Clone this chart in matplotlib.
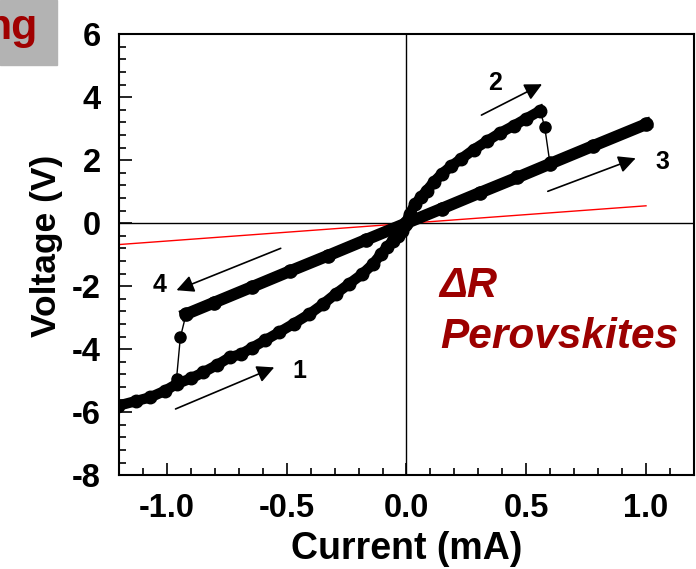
import numpy as np
import matplotlib.pyplot as plt
from matplotlib.patches import Rectangle

# I-V loop of a perovskite resistive switch
# high resistance branch, sweep from -1.2 mA up to the switching point
high_i = [-1.205, -1.13, -1.07, -1.01, -0.96, -0.90, -0.849, -0.79, -0.738, -0.691,
          -0.643, -0.59, -0.533, -0.47, -0.406, -0.35, -0.296, -0.24, -0.185, -0.14,
          -0.106, -0.08, -0.058, -0.035, -0.019, -0.005, 0.013, 0.036, 0.06, 0.084,
          0.115, 0.147, 0.185, 0.226, 0.28, 0.337, 0.39, 0.447, 0.50, 0.558]
high_v = [-5.80, -5.65, -5.53, -5.33, -5.11, -4.93, -4.74, -4.50, -4.26, -4.16,
          -3.95, -3.72, -3.47, -3.19, -2.89, -2.58, -2.25, -1.93, -1.62, -1.30,
          -0.98, -0.76, -0.56, -0.40, -0.24, -0.05, 0.29, 0.60, 0.82, 1.03,
          1.31, 1.56, 1.80, 2.03, 2.33, 2.61, 2.86, 3.09, 3.32, 3.57]

# low resistance branch (sweep up to 1.0 mA and back down to -0.92 mA)
low_i = [-0.920, -0.802, -0.643, -0.485, -0.327, -0.169, 0.0, 0.147,
         0.305, 0.463, 0.598, 0.779, 1.0]
low_v = [-2.89, -2.52, -2.02, -1.52, -1.03, -0.53, 0.0, 0.46,
         0.96, 1.45, 1.88, 2.45, 3.14]

# switching jumps
set_i = [0.558, 0.577, 0.598]
set_v = [3.57, 3.06, 1.95]
reset_i = [-0.920, -0.944, -0.960]
reset_v = [-2.89, -3.63, -4.95]

# red reference line
ref_i = [-1.2, 1.0]
ref_v = [-0.68, 0.55]

# sweep direction arrows: (start, end, label position, label)
arrows = [
    ((-0.964, -5.90), (-0.552, -4.58), (-0.445, -4.70), '1'),
    ((0.313, 3.43), (0.566, 4.41), (0.37, 4.45), '2'),
    ((0.590, 1.01), (0.957, 2.06), (1.07, 1.95), '3'),
    ((-0.525, -0.80), (-0.960, -2.13), (-1.03, -1.95), '4'),
]

plt.rcParams['font.family'] = 'Liberation Sans'
plt.rcParams['font.weight'] = 'bold'

fig = plt.figure(figsize=(6.96, 5.69), dpi=100)
ax = fig.add_axes([0.171, 0.165, 0.826, 0.775])

# axes cross lines
ax.axhline(0, color='k', lw=1.0, zorder=1)
ax.axvline(0, color='k', lw=1.0, zorder=1)

ax.plot(ref_i, ref_v, color='red', lw=1.0, zorder=2)

ax.plot(high_i, high_v, '-o', color='k', lw=7.5, ms=9, zorder=3)
ax.plot(low_i, low_v, '-o', color='k', lw=8.5, ms=9.5, zorder=3)
ax.plot(set_i, set_v, '-o', color='k', lw=1.0, ms=8, zorder=3)
ax.plot(reset_i, reset_v, '-o', color='k', lw=1.0, ms=8, zorder=3)

for start, end, lab_pos, lab in arrows:
    ax.annotate('', xy=end, xytext=start,
                arrowprops=dict(arrowstyle='-|>', color='k', lw=1.2,
                                mutation_scale=26, shrinkA=0, shrinkB=0))
    ax.text(lab_pos[0], lab_pos[1], lab, fontsize=18, fontweight='bold',
            ha='center', va='center')

ax.text(0.135, -2.36, 'ΔR', color='#9c0000', fontsize=30,
        fontweight='bold', fontstyle='italic', va='baseline')
ax.text(0.139, -3.98, 'Perovskites', color='#9c0000', fontsize=30.5,
        fontweight='bold', fontstyle='italic', va='baseline')

ax.set_xlim(-1.2, 1.2)
ax.set_ylim(-8, 6)
ax.set_xticks([-1.0, -0.5, 0.0, 0.5, 1.0])
ax.set_xticks(np.arange(-1.1, 1.2, 0.1), minor=True)
ax.set_yticks(np.arange(-8, 7, 2))
ax.set_yticks(np.arange(-8, 6.1, 0.4), minor=True)
ax.set_xticklabels(['-1.0', '-0.5', '0.0', '0.5', '1.0'])
ax.set_yticklabels(['-8', '-6', '-4', '-2', '0', '2', '4', '6'])
ax.tick_params(which='both', direction='in', width=1.2, labelsize=23.5)
ax.tick_params(which='major', length=9, pad=13)
ax.tick_params(which='minor', length=5)
for s in ax.spines.values():
    s.set_linewidth(1.5)

ax.set_xlabel('Current (mA)', fontsize=27, fontweight='bold', labelpad=5)
ax.set_ylabel('Voltage (V)', fontsize=25.5, fontweight='bold')
ax.yaxis.set_label_coords(-0.097, 0.52)

# cropped title box in the corner
fig.patches.append(Rectangle((0, 1 - 65 / 569), 57 / 696, 65 / 569,
                             transform=fig.transFigure, color='#b3b3b3', zorder=0))
fig.text(37 / 696, 1 - 39 / 569, 'ng', color='#a00000', fontsize=31,
         fontweight='bold', ha='right', va='baseline')

fig.savefig('out.png', dpi=100)
